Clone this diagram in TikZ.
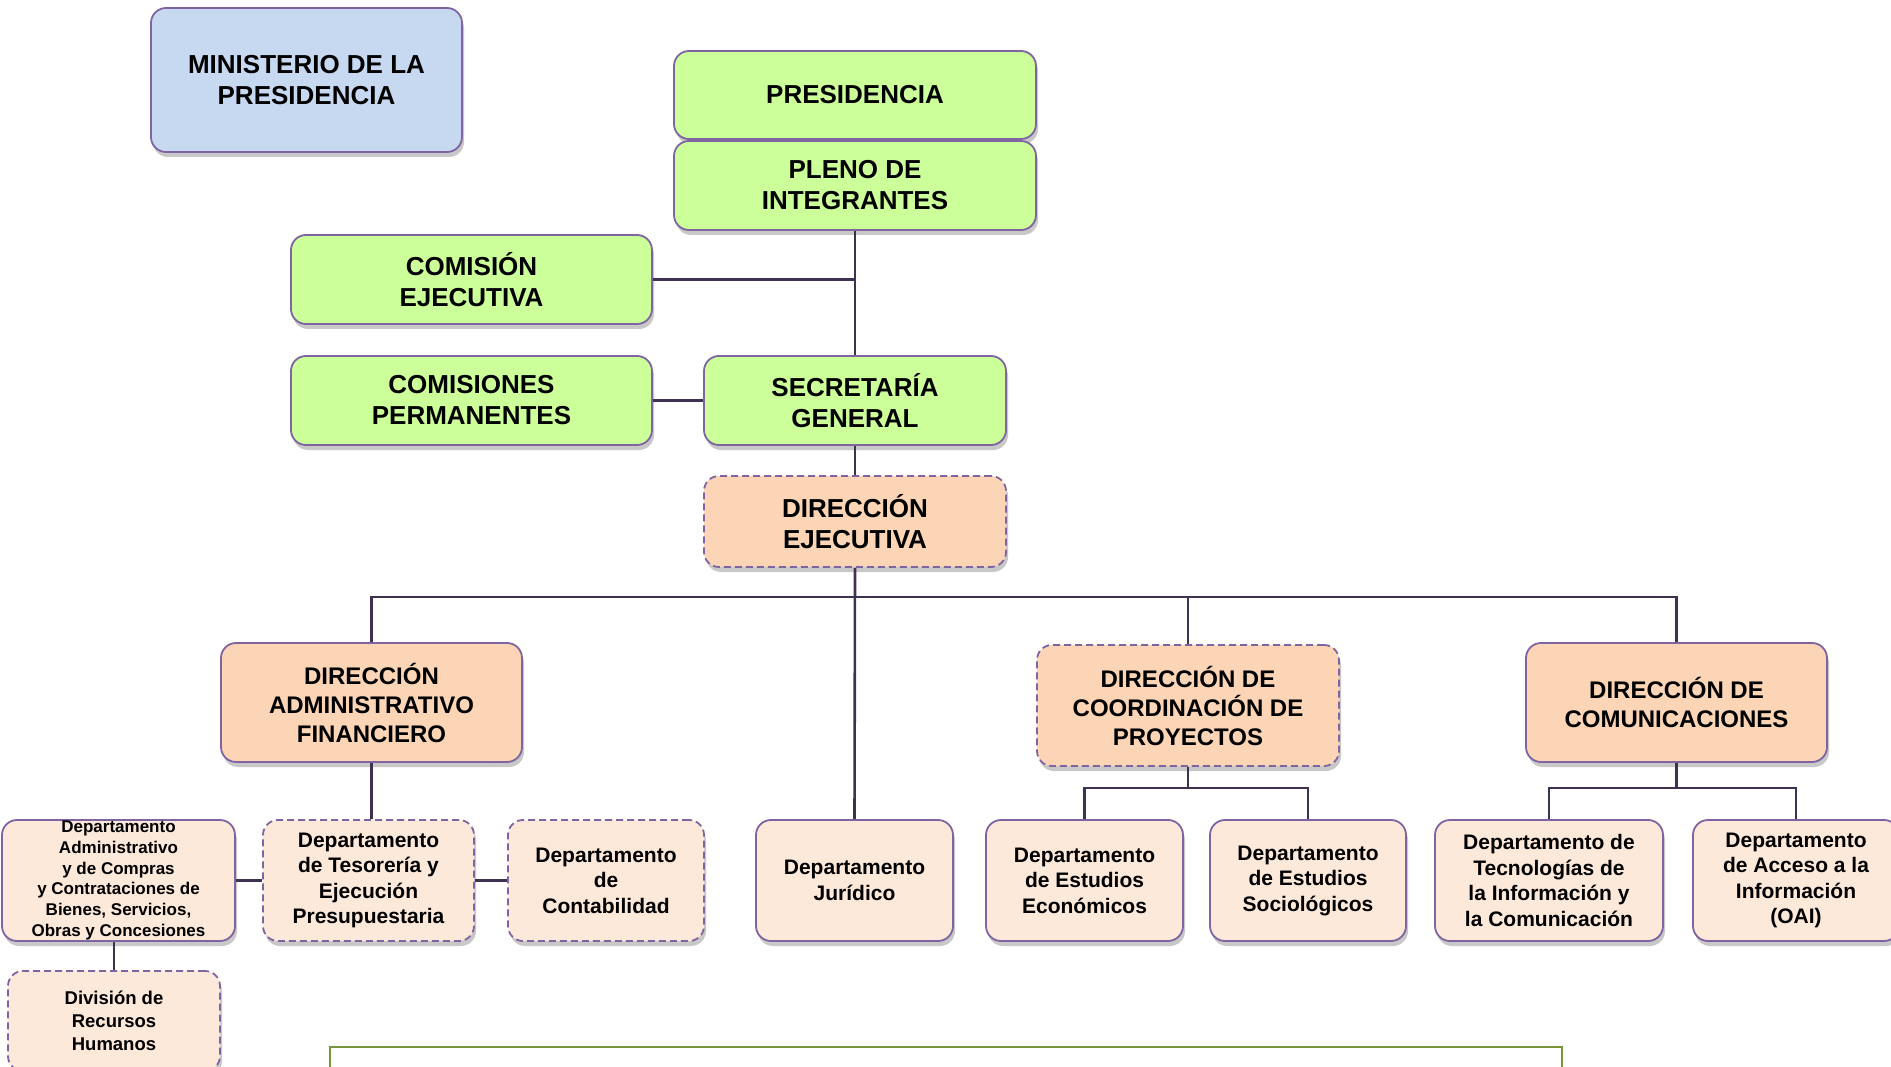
\documentclass[tikz,border=0pt]{standalone}
\usepackage{fontspec}
\setmainfont{Liberation Sans}
\usetikzlibrary{shadows}
\definecolor{bord}{HTML}{8064A2}
\definecolor{conn}{HTML}{3F3151}
\definecolor{grn}{HTML}{CCFF99}
\definecolor{blu}{HTML}{C6D9F1}
\definecolor{org}{HTML}{FBD5B5}
\definecolor{lorg}{HTML}{FDE9D9}
\definecolor{olive}{HTML}{77933C}
\begin{document}
\begin{tikzpicture}[x=1pt,y=-1pt,
  box/.style={draw=bord, line width=1.8pt, rounded corners=15pt, align=center, inner sep=0pt,
    font=\bfseries, drop shadow={shadow xshift=2pt, shadow yshift=-5pt, opacity=0.3, fill=black!70}},
  dbox/.style={box, dash pattern=on 7pt off 4pt},
  big/.style={font=\bfseries\fontsize{26}{31}\selectfont},
  mid/.style={font=\bfseries\fontsize{24}{29}\selectfont},
  dep/.style={font=\bfseries\fontsize{21}{25.5}\selectfont},
  link/.style={draw=conn, line width=2.6pt}]
\useasboundingbox (0,0) rectangle (1891,1067);
\clip (0,0) rectangle (1891,1067);
\fill[white] (0,0) rectangle (1891,1067);

% top
\node[box,big,fill=blu,minimum width=311pt,minimum height=144pt] (mini) at (306.5,80) {MINISTERIO DE LA\\PRESIDENCIA};
\node[box,big,fill=grn,minimum width=362pt,minimum height=88pt] (pres) at (855,95) {PRESIDENCIA};
\node[box,big,fill=grn,minimum width=362pt,minimum height=89pt] (pleno) at (855,185.5) {PLENO DE\\INTEGRANTES};
\node[box,big,fill=grn,minimum width=361pt,minimum height=89pt] (comej) at (471.5,279.5) {COMISIÓN\\EJECUTIVA};
\node[box,big,fill=grn,minimum width=361pt,minimum height=89pt] (comper) at (471.5,400.5) {COMISIONES\\PERMANENTES};
\node[box,big,fill=grn,minimum width=302pt,minimum height=89pt] (secg) at (855,400.5) {SECRETARÍA\\GENERAL};
\node[dbox,big,fill=org,minimum width=302pt,minimum height=91pt] (dirEj) at (855,521.5) {DIRECCIÓN\\EJECUTIVA};

% direcciones
\node[box,mid,fill=org,minimum width=301pt,minimum height=119pt] (dirAdm) at (371.5,702.5) {DIRECCIÓN\\ADMINISTRATIVO\\FINANCIERO};
\node[dbox,mid,fill=org,minimum width=302pt,minimum height=121pt] (dirCoord) at (1188,705.5) {DIRECCIÓN DE\\COORDINACIÓN DE\\PROYECTOS};
\node[box,mid,fill=org,minimum width=301pt,minimum height=119pt] (dirCom) at (1676.5,702.5) {DIRECCIÓN DE\\COMUNICACIONES};

% departamentos
\node[box,fill=lorg,minimum width=233pt,minimum height=121pt,font=\bfseries\fontsize{17}{20.7}\selectfont] (depAdm) at (118.5,880.5) {Departamento\\Administrativo\\y de Compras\\y Contrataciones de\\Bienes, Servicios,\\Obras y Concesiones};
\node[dbox,dep,fill=lorg,minimum width=211pt,minimum height=121pt] (tes) at (368.5,880.5) {Departamento\\de Tesorería y\\Ejecución\\Presupuestaria};
\node[dbox,dep,fill=lorg,minimum width=196pt,minimum height=121pt] (cont) at (606,880.5) {Departamento\\de\\Contabilidad};
\node[box,dep,fill=lorg,minimum width=197pt,minimum height=121pt] (jur) at (854.5,880.5) {Departamento\\Jurídico};
\node[box,dep,fill=lorg,minimum width=197pt,minimum height=121pt] (estEc) at (1084.5,880.5) {Departamento\\de Estudios\\Económicos};
\node[box,dep,fill=lorg,minimum width=196pt,minimum height=121pt] (estSoc) at (1308,880.5) {Departamento\\de Estudios\\Sociológicos};
\node[box,dep,fill=lorg,minimum width=228pt,minimum height=121pt] (tec) at (1549,880.5) {Departamento de\\Tecnologías de\\la Información y\\la Comunicación};
\node[box,dep,fill=lorg,minimum width=206pt,minimum height=121pt] (acc) at (1796,880.5) {Departamento\\de Acceso a la\\Información\\(OAI)};
\node[dbox,fill=lorg,minimum width=212pt,minimum height=100pt,font=\bfseries\fontsize{18.5}{23}\selectfont] (div) at (114,1021) {División de\\Recursos\\Humanos};

% green frame
\draw[olive, line width=2.6pt] (330,1100) -- (330,1047) -- (1562,1047) -- (1562,1100);

% connectors
\coordinate (bar) at (0,597);
\coordinate (barC) at (0,788);
\begin{scope}[on background layer/.try]
\end{scope}
\draw[link] (pleno.south) -- (secg.north);
\draw[link] (comej.east) -- (comej.east -| pleno.south);
\draw[link] (comper.east) -- (secg.west);
\draw[link] (secg.south) -- (dirEj.north);
\draw[link] (dirEj.south) -- (jur.north);
\draw[link] (dirAdm.north) -- (dirAdm.north |- bar) -- (dirCom.north |- bar) -- (dirCom.north);
\draw[link] (dirCoord.north) -- (dirCoord.north |- bar);
\draw[link] (dirAdm.south) -- (dirAdm.south |- tes.north);
\draw[link] (depAdm.east) -- (tes.west);
\draw[link] (tes.east) -- (cont.west);
\draw[link] (div.north) -- (div.north |- depAdm.south);
\draw[link] (dirCoord.south) -- (dirCoord.south |- barC);
\draw[link] (estEc.north) -- (estEc.north |- barC) -- (estSoc.north |- barC) -- (estSoc.north);
\draw[link] (dirCom.south) -- (dirCom.south |- barC);
\draw[link] (tec.north) -- (tec.north |- barC) -- (acc.north |- barC) -- (acc.north);
\end{tikzpicture}
\end{document}
